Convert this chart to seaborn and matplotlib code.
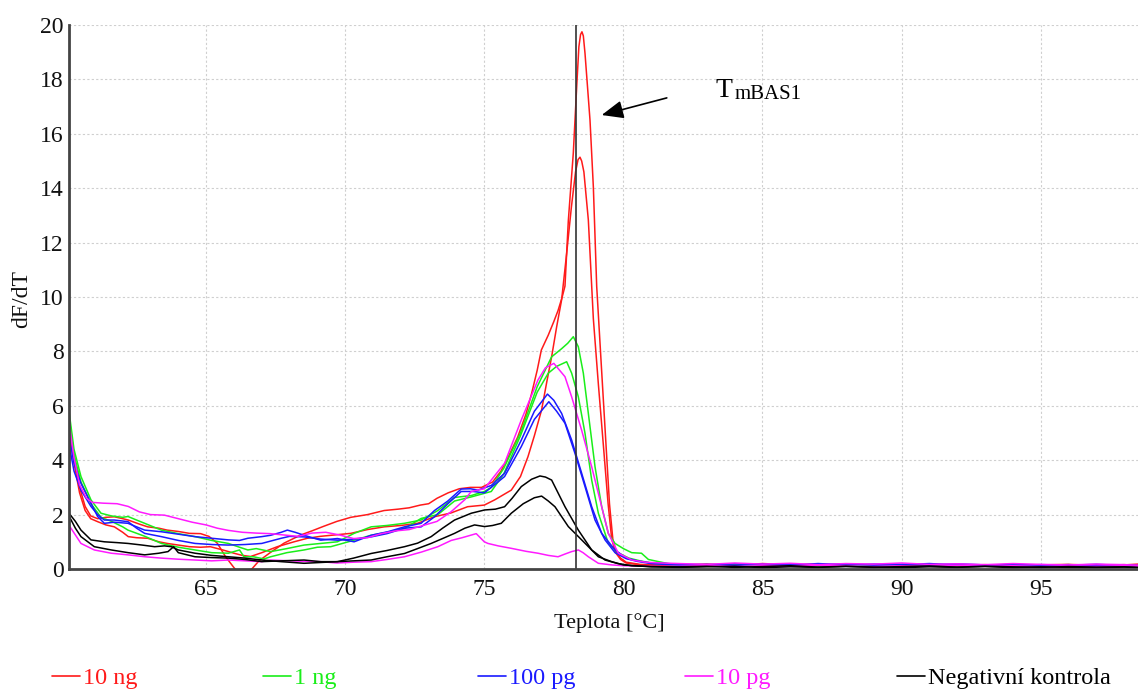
import matplotlib
matplotlib.use("Agg")
import matplotlib.pyplot as plt
from matplotlib.ticker import MultipleLocator
from matplotlib.lines import Line2D
import seaborn as sns
import pandas as pd

# --- melting-curve derivative data (dF/dT vs temperature) ---------------------
series_names = ["10 ng", "1 ng", "100 pg", "10 pg", "Negativní kontrola"]
series_colors = ["#ff1a1a", "#1aee1a", "#1a1aff", "#ff1aff", "#000000"]

# common high-temperature tail grid
t_tail = [82, 83, 84, 85, 86, 87, 88, 89, 90, 91, 92, 93, 94, 95, 96, 97, 98, 98.5]

# 10 ng, replicate a
t_10ng_a = [60.07, 60.25, 60.45, 60.65, 60.85, 61.1, 61.4, 61.7, 62.0, 62.2, 62.6, 62.9,
            63.3, 63.6, 64.0, 64.4, 64.8, 65.1, 65.4, 65.7, 66.0, 66.3, 66.6, 66.9, 67.3,
            67.8, 68.4, 68.8, 69.2, 69.7, 70.2, 70.8, 71.4, 71.9, 72.3, 72.7, 73.0, 73.3,
            73.7, 74.1, 74.5, 74.9, 75.3, 75.6, 75.9, 76.2, 76.5, 76.7, 76.9, 77.05, 77.3,
            77.5, 77.65, 77.8, 77.9, 78.02, 78.2, 78.33, 78.4, 78.46, 78.51, 78.56, 78.62,
            78.8, 78.92, 79.04, 79.2, 79.35, 79.5, 79.62, 79.75, 79.9, 80.1, 80.6, 81.2]
y_10ng_a = [5.3, 4.2, 3.0, 2.3, 1.95, 1.85, 1.9, 1.92, 1.85, 1.8, 1.65, 1.55,
            1.5, 1.43, 1.38, 1.31, 1.3, 1.2, 0.95, 0.45, 0.05, -0.3, -0.05, 0.3, 0.6,
            0.95, 1.25, 1.4, 1.56, 1.75, 1.9, 2.0, 2.15, 2.2, 2.25, 2.35, 2.4, 2.6,
            2.8, 2.95, 3.0, 3.0, 3.2, 3.6, 4.2, 4.85, 5.7, 6.45, 7.3, 8.05, 8.6,
            9.1, 9.5, 10.0, 10.4, 12.8, 15.3, 17.9, 19.2, 19.65, 19.75, 19.6, 18.96,
            16.5, 14.05, 10.4, 7.6, 5.0, 2.4, 1.1, 0.6, 0.4, 0.25, 0.17, 0.15]
tail_10ng_a = [0.15, 0.18, 0.14, 0.2, 0.16, 0.13, 0.17, 0.12, 0.15, 0.18, 0.13, 0.16,
               0.12, 0.15, 0.17, 0.13, 0.16, 0.14]

# 10 ng, replicate b
t_10ng_b = [60.07, 60.25, 60.45, 60.65, 60.85, 61.1, 61.4, 61.7, 62.0, 62.2, 62.5, 62.9,
            63.3, 63.6, 64.0, 64.4, 64.8, 65.15, 65.6, 66.0, 66.3, 66.6, 67.0, 67.56,
            68.16, 68.64, 69.1, 69.6, 70.2, 70.8, 71.4, 72.0, 72.6, 73.2, 73.8, 74.4,
            75.0, 75.37, 75.97, 76.3, 76.57, 76.8, 77.06, 77.25, 77.42, 77.6, 77.78,
            77.96, 78.13, 78.28, 78.37, 78.44, 78.5, 78.58, 78.74, 78.92, 79.1, 79.3,
            79.45, 79.58, 79.72, 79.9, 80.1, 80.7, 81.3]
y_10ng_b = [5.0, 3.9, 2.8, 2.15, 1.85, 1.74, 1.62, 1.55, 1.35, 1.19, 1.15, 1.13,
            1.0, 0.94, 0.88, 0.82, 0.8, 0.82, 0.7, 0.58, 0.5, 0.46, 0.6, 0.82,
            1.0, 1.13, 1.2, 1.25, 1.31, 1.45, 1.55, 1.6, 1.68, 1.92, 2.06, 2.29,
            2.35, 2.54, 2.9, 3.4, 4.13, 4.9, 5.85, 6.9, 7.8, 8.9, 9.9,
            11.6, 13.3, 14.6, 15.05, 15.14, 15.0, 14.6, 12.83, 9.2, 6.8, 4.3,
            2.4, 1.1, 0.6, 0.35, 0.22, 0.14, 0.12]
tail_10ng_b = [0.12, 0.14, 0.17, 0.12, 0.15, 0.18, 0.11, 0.15, 0.13, 0.16, 0.12, 0.14,
               0.17, 0.12, 0.14, 0.12, 0.15, 0.18]

# 1 ng, replicate a
t_1ng_a = [60.07, 60.25, 60.5, 60.86, 61.22, 61.6, 62.0, 62.19, 62.5, 62.79, 63.1, 63.39,
           64.0, 64.6, 65.2, 65.8, 66.2, 66.5, 66.8, 67.32, 67.9, 68.52, 69.12, 69.72,
           70.32, 70.93, 71.5, 72.13, 72.73, 73.33, 73.93, 74.53, 75.0, 75.25, 75.7,
           76.3, 76.9, 77.42, 77.78, 78.0, 78.2, 78.38, 78.56, 78.74, 78.98, 79.22,
           79.46, 79.7, 80.0, 80.3, 80.65, 80.9, 81.27, 81.6]
y_1ng_a = [5.8, 4.4, 3.4, 2.54, 2.05, 1.95, 1.9, 1.93, 1.8, 1.68, 1.55, 1.43,
           1.3, 1.19, 1.05, 0.94, 0.8, 0.7, 0.75, 0.64, 0.75, 0.88, 0.94, 1.0,
           1.31, 1.55, 1.6, 1.68, 1.8, 2.15, 2.63, 2.7, 2.85, 3.0, 3.7,
           5.0, 6.7, 7.8, 8.1, 8.3, 8.54, 8.17, 7.2, 5.72, 3.76, 2.29,
           1.3, 0.94, 0.75, 0.6, 0.58, 0.35, 0.27, 0.2]
tail_1ng_a = [0.16, 0.12, 0.15, 0.13, 0.17, 0.12, 0.14, 0.16, 0.11, 0.14, 0.12, 0.15,
              0.13, 0.1, 0.14, 0.12, 0.1, 0.12]

# 1 ng, replicate b
t_1ng_b = [60.07, 60.25, 60.5, 60.86, 61.22, 61.6, 62.0, 62.19, 62.8, 63.39, 64.0, 64.6,
           65.2, 65.8, 66.2, 66.36, 66.7, 67.08, 67.32, 67.9, 68.52, 69.0, 69.48, 70.32,
           70.93, 71.5, 72.13, 72.73, 73.33, 73.93, 74.53, 75.25, 75.7, 76.3, 76.9,
           77.3, 77.6, 77.96, 78.14, 78.38, 78.62, 78.86, 79.1, 79.46, 79.8, 80.2,
           80.6, 81.0]
y_1ng_b = [5.6, 4.2, 3.2, 2.4, 1.9, 1.75, 1.55, 1.43, 1.2, 0.94, 0.8, 0.7,
           0.6, 0.58, 0.7, 0.45, 0.45, 0.37, 0.45, 0.6, 0.7, 0.8, 0.82, 1.06,
           1.24, 1.35, 1.49, 1.86, 2.0, 2.5, 2.65, 2.85, 3.5, 4.9, 6.5,
           7.2, 7.45, 7.62, 7.2, 6.33, 4.99, 3.27, 2.05, 0.94, 0.6, 0.4,
           0.3, 0.22]
tail_1ng_b = [0.13, 0.15, 0.11, 0.16, 0.12, 0.15, 0.13, 0.1, 0.14, 0.12, 0.16, 0.11,
              0.14, 0.12, 0.1, 0.13, 0.11, 0.1]

# 100 pg, replicate a
t_100pg_a = [60.07, 60.25, 60.5, 60.86, 61.1, 61.34, 61.7, 62.19, 62.5, 62.79, 63.39,
             64.0, 64.6, 65.2, 65.8, 66.2, 66.5, 67.0, 67.32, 67.7, 67.92, 68.2, 68.52,
             69.12, 69.72, 70.32, 70.93, 71.53, 72.13, 72.73, 73.21, 73.69, 74.17, 74.5,
             74.77, 75.25, 75.73, 76.33, 76.8, 77.27, 77.5, 77.78, 78.14, 78.5, 78.86,
             79.22, 79.7, 80.1, 80.5, 81.0]
y_100pg_a = [4.9, 3.9, 3.15, 2.42, 1.93, 1.68, 1.72, 1.68, 1.55, 1.43, 1.37,
             1.28, 1.19, 1.13, 1.07, 1.05, 1.13, 1.19, 1.24, 1.35, 1.43, 1.35, 1.24,
             1.06, 1.12, 1.0, 1.24, 1.37, 1.55, 1.68, 2.15, 2.5, 2.94, 2.95,
             2.9, 3.07, 3.52, 4.74, 5.8, 6.43, 6.2, 5.72, 4.74, 3.52, 2.29,
             1.31, 0.7, 0.4, 0.3, 0.22]
tail_100pg_a = [0.18, 0.15, 0.19, 0.16, 0.14, 0.2, 0.15, 0.18, 0.17, 0.14, 0.19, 0.15,
                0.13, 0.16, 0.14, 0.17, 0.13, 0.12]

# 100 pg, replicate b
t_100pg_b = [60.07, 60.25, 60.5, 60.86, 61.1, 61.34, 61.7, 62.19, 62.5, 62.79, 63.39,
             64.0, 64.6, 65.2, 65.8, 66.4, 67.0, 67.7, 68.0, 68.52, 69.12, 69.72, 70.32,
             70.93, 71.5, 72.13, 72.73, 73.21, 73.69, 74.17, 74.6, 75.0, 75.25, 75.73,
             76.33, 76.8, 77.32, 77.6, 77.9, 78.26, 78.62, 78.98, 79.34, 79.7, 80.1,
             80.5, 81.0]
y_100pg_b = [4.6, 3.6, 2.9, 2.3, 2.0, 1.8, 1.8, 1.74, 1.5, 1.31, 1.19,
             1.05, 0.94, 0.9, 0.88, 0.9, 0.94, 1.13, 1.2, 1.18, 1.1, 1.06, 1.1,
             1.18, 1.3, 1.5, 1.55, 1.92, 2.4, 2.85, 2.85, 2.8, 3.0, 3.4,
             4.5, 5.5, 6.15, 5.8, 5.36, 4.25, 3.03, 1.8, 1.07, 0.6, 0.38,
             0.28, 0.2]
tail_100pg_b = [0.14, 0.17, 0.13, 0.18, 0.15, 0.16, 0.19, 0.14, 0.16, 0.2, 0.15, 0.13,
                0.17, 0.14, 0.16, 0.12, 0.15, 0.13]

# 10 pg, replicate a
t_10pg_a = [60.07, 60.25, 60.45, 60.7, 60.9, 61.3, 61.8, 62.2, 62.6, 63.0, 63.5, 64.0,
            64.5, 65.0, 65.4, 65.8, 66.3, 66.8, 67.3, 67.8, 68.3, 68.8, 69.3, 69.8,
            70.3, 70.8, 71.3, 71.8, 72.3, 72.8, 73.3, 73.8, 74.3, 74.53, 75.0, 75.25,
            75.73, 76.33, 76.93, 77.2, 77.5, 77.9, 78.14, 78.5, 78.86, 79.22, 79.46,
            79.82, 80.3, 80.8, 81.4]
y_10pg_a = [5.4, 4.1, 3.1, 2.6, 2.45, 2.42, 2.4, 2.3, 2.1, 2.0, 1.98, 1.85,
            1.72, 1.62, 1.5, 1.42, 1.35, 1.32, 1.3, 1.25, 1.2, 1.32, 1.35, 1.25,
            1.12, 1.15, 1.3, 1.4, 1.45, 1.6, 1.75, 2.1, 2.55, 2.85, 2.95, 3.27,
            3.89, 5.48, 6.95, 7.4, 7.56, 7.07, 6.33, 5.1, 3.76, 2.29, 1.31,
            0.58, 0.33, 0.25, 0.22]
tail_10pg_a = [0.2, 0.17, 0.22, 0.18, 0.21, 0.16, 0.2, 0.18, 0.22, 0.17, 0.19, 0.16,
               0.2, 0.17, 0.15, 0.18, 0.16, 0.14]

# 10 pg, replicate b
t_10pg_b = [60.07, 60.14, 60.5, 60.98, 61.59, 62.19, 62.8, 63.39, 64.0, 64.6, 65.2, 65.8,
            66.4, 67.0, 67.32, 68.0, 68.5, 69.12, 69.7, 70.3, 70.93, 71.5, 72.13, 72.73,
            73.33, 73.81, 74.2, 74.71, 75.0, 75.13, 75.5, 75.97, 76.5, 76.93, 77.3,
            77.65, 77.9, 78.14, 78.38, 78.55, 78.74, 79.1, 79.58, 80.0, 81.0]
y_10pg_b = [1.6, 1.5, 0.94, 0.7, 0.58, 0.52, 0.45, 0.4, 0.36, 0.33, 0.3, 0.33,
            0.3, 0.27, 0.33, 0.3, 0.28, 0.27, 0.22, 0.25, 0.27, 0.35, 0.45, 0.62,
            0.82, 1.05, 1.15, 1.3, 1.0, 0.94, 0.85, 0.76, 0.65, 0.58, 0.5,
            0.45, 0.55, 0.64, 0.7, 0.6, 0.45, 0.21, 0.15, 0.12, 0.1]
tail_10pg_b = [0.1, 0.13, 0.09, 0.12, 0.1, 0.14, 0.11, 0.09, 0.12, 0.1, 0.13, 0.1,
               0.12, 0.09, 0.11, 0.1, 0.12, 0.1]

# negative control, replicate a
t_neg_a = [60.07, 60.3, 60.5, 60.86, 61.34, 61.8, 62.19, 62.7, 63.15, 63.5, 63.75, 64.0,
           64.6, 65.2, 65.8, 66.4, 67.0, 67.7, 68.52, 69.12, 69.72, 70.3, 70.93, 71.5,
           72.13, 72.6, 73.09, 73.5, 73.93, 74.53, 75.01, 75.4, 75.73, 76.0, 76.33,
           76.7, 77.0, 77.2, 77.42, 77.9, 78.38, 78.86, 79.34, 79.8, 80.3, 81.0]
y_neg_a = [2.05, 1.75, 1.43, 1.07, 1.0, 0.97, 0.94, 0.88, 0.82, 0.85, 0.82, 0.7,
           0.58, 0.5, 0.45, 0.4, 0.33, 0.27, 0.21, 0.24, 0.27, 0.4, 0.57, 0.68,
           0.82, 0.95, 1.19, 1.5, 1.8, 2.05, 2.17, 2.2, 2.29, 2.6, 3.03,
           3.3, 3.42, 3.38, 3.27, 2.29, 1.43, 0.7, 0.33, 0.2, 0.12, 0.09]
tail_neg_a = [0.08, 0.1, 0.06, 0.09, 0.12, 0.07, 0.1, 0.06, 0.09, 0.11, 0.07, 0.1,
              0.08, 0.06, 0.09, 0.07, 0.08, 0.06]

# negative control, replicate b
t_neg_b = [60.07, 60.3, 60.5, 60.98, 61.59, 62.2, 62.79, 63.3, 63.63, 63.83, 64.0, 64.6,
           65.2, 65.8, 66.4, 67.0, 67.7, 68.52, 69.12, 69.72, 70.3, 70.93, 71.5, 72.13,
           72.6, 73.09, 73.5, 73.93, 74.3, 74.65, 75.01, 75.3, 75.61, 75.97, 76.4,
           76.8, 77.06, 77.3, 77.54, 78.02, 78.5, 79.1, 79.58, 80.0, 81.0]
y_neg_b = [1.95, 1.5, 1.19, 0.82, 0.7, 0.6, 0.52, 0.58, 0.64, 0.82, 0.6, 0.45,
           0.42, 0.4, 0.35, 0.27, 0.3, 0.33, 0.27, 0.27, 0.3, 0.33, 0.45, 0.57,
           0.75, 0.94, 1.12, 1.31, 1.5, 1.62, 1.56, 1.6, 1.68, 2.05, 2.4,
           2.62, 2.68, 2.5, 2.29, 1.56, 1.07, 0.45, 0.27, 0.15, 0.08]
tail_neg_b = [0.06, 0.08, 0.1, 0.05, 0.08, 0.06, 0.09, 0.07, 0.05, 0.08, 0.06, 0.09,
              0.05, 0.08, 0.06, 0.05, 0.07, 0.05]

curves = [
    ("10 ng", "10 ng a", t_10ng_a, y_10ng_a, tail_10ng_a),
    ("10 ng", "10 ng b", t_10ng_b, y_10ng_b, tail_10ng_b),
    ("1 ng", "1 ng a", t_1ng_a, y_1ng_a, tail_1ng_a),
    ("1 ng", "1 ng b", t_1ng_b, y_1ng_b, tail_1ng_b),
    ("100 pg", "100 pg a", t_100pg_a, y_100pg_a, tail_100pg_a),
    ("100 pg", "100 pg b", t_100pg_b, y_100pg_b, tail_100pg_b),
    ("10 pg", "10 pg a", t_10pg_a, y_10pg_a, tail_10pg_a),
    ("10 pg", "10 pg b", t_10pg_b, y_10pg_b, tail_10pg_b),
    ("Negativní kontrola", "neg a", t_neg_a, y_neg_a, tail_neg_a),
    ("Negativní kontrola", "neg b", t_neg_b, y_neg_b, tail_neg_b),
]

tm_bas1 = 78.3

rows = []
for name, unit, ts, ys, tail in curves:
    for t, v in zip(list(ts) + t_tail, list(ys) + tail):
        rows.append({"Teplota": t, "dF/dT": v, "vzorek": name, "opakovani": unit})
df = pd.DataFrame(rows)

# --- figure ---------------------------------------------------------------
sns.set_theme(style="white")
plt.rcParams["font.family"] = ["Liberation Serif", "DejaVu Serif"]

fig = plt.figure(figsize=(11.38, 6.91), dpi=100)
ax = fig.add_axes([69 / 1138, 122 / 691, 1069 / 1138, 544 / 691])

palette = dict(zip(series_names, series_colors))
sns.lineplot(data=df, x="Teplota", y="dF/dT", hue="vzorek", units="opakovani",
             estimator=None, sort=False, palette=palette, linewidth=1.1,
             legend=False, ax=ax)

ax.set_xlim(60.07, 98.5)
ax.set_ylim(0, 20)
ax.xaxis.set_major_locator(MultipleLocator(5))
ax.xaxis.set_minor_locator(MultipleLocator(1.25))
ax.yaxis.set_major_locator(MultipleLocator(2))
ax.yaxis.set_minor_locator(MultipleLocator(1))

ax.grid(True, which="major", color="#cfcfcf", linestyle=(0, (2, 2)), linewidth=0.8)
ax.set_axisbelow(True)
for side in ("top", "right"):
    ax.spines[side].set_visible(False)
for side in ("left", "bottom"):
    ax.spines[side].set_color("#444444")
    ax.spines[side].set_linewidth(2)
    ax.spines[side].set_zorder(5)

ax.tick_params(axis="both", which="both", direction="out", color="#888888",
               width=0.8, length=3, labelcolor="#111111")
ax.tick_params(axis="x", which="major", labelsize=17, pad=4)
ax.tick_params(axis="y", which="major", labelsize=17, pad=1)

ax.set_xlabel("Teplota [°C]", fontsize=16, color="#111111")
ax.set_ylabel("dF/dT", fontsize=17, color="#111111")
ax.xaxis.set_label_coords((609 - 69) / 1069, (569 - 613) / 544)
ax.yaxis.set_label_coords((32 - 69) / 1069, (569 - 299) / 544)

# melting temperature marker and its label
ax.axvline(tm_bas1, color="#333333", linewidth=1.2, zorder=4)
ax.annotate("", xy=(79.22, 16.69), xytext=(81.56, 17.32),
            arrowprops=dict(arrowstyle="-|>,head_length=0.6,head_width=0.25",
                            color="black", lw=1.2, mutation_scale=22,
                            shrinkA=0, shrinkB=0))
ax.text(83.3, 17.34, "T", fontsize=20, va="baseline", ha="left", color="black")
ax.text(84.0, 17.28, "mBAS1", fontsize=15, va="baseline", ha="left", color="black")

# legend row below the axes
legend_x = [52, 263, 478, 685, 897]
for name, color, x0 in zip(series_names, series_colors, legend_x):
    handle = Line2D([], [], color=color, linewidth=1.2)
    fig.legend([handle], [name], loc="center left",
               bbox_to_anchor=(x0 / 1138, 1 - 678 / 691),
               frameon=False, fontsize=17.5, handlelength=1.15,
               handletextpad=0.12, borderpad=0, borderaxespad=0,
               labelcolor=color)

fig.savefig("out.png", dpi=100)
